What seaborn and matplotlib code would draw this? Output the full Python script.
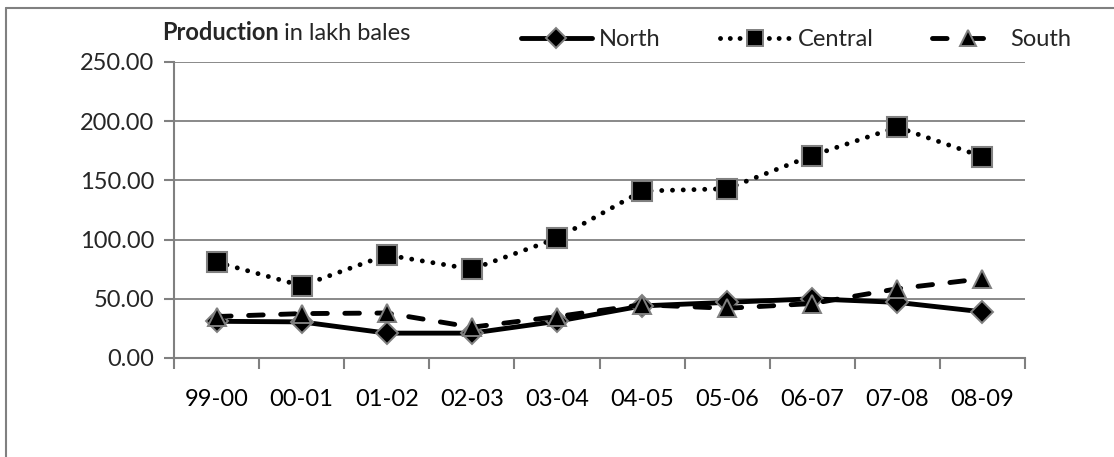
import matplotlib
matplotlib.use("Agg")
import matplotlib.pyplot as plt
import seaborn as sns
import pandas as pd
from matplotlib.lines import Line2D

categories = ["99-00", "00-01", "01-02", "02-03", "03-04", "04-05", "05-06", "06-07", "07-08", "08-09"]
north = [31, 30.5, 21, 21, 31, 44, 47, 50, 47, 39]
central = [81, 61, 87, 75, 101, 141, 143, 171, 195, 170]
south = [35, 37.5, 38, 26, 35, 45, 42, 46, 58.5, 67]
y_ticks = [0, 50, 100, 150, 200, 250]

sns.set_theme(style="white")
plt.rcParams['font.family'] = ['Lato', 'DejaVu Sans']

FS = 17
fig = plt.figure(figsize=(11.14, 4.57), dpi=100)
ax = fig.add_axes([174/1114, 1-358/457, (1025-174)/1114, (358-62)/457])

df = pd.DataFrame({"cat": categories, "North": north, "Central": central, "South": south})
xpos = list(range(len(categories)))

edge = "#808080"
LW = 3.5
sns.lineplot(x=xpos, y=df["North"], ax=ax, color="black", lw=LW, marker="D", ms=11,
             mfc="black", mec=edge, mew=1.4, label="North", legend=False)
sns.lineplot(x=xpos, y=df["Central"], ax=ax, color="black", lw=LW, marker="s", ms=14,
             mfc="black", mec=edge, mew=1.5, label="Central", legend=False)
sns.lineplot(x=xpos, y=df["South"], ax=ax, color="black", lw=LW, marker="^", ms=13.5,
             mfc="black", mec=edge, mew=1.4, label="South", legend=False)
lines = ax.get_lines()
lines[1].set_linestyle((0, (0.01, 2.2)))
lines[1].set_dash_capstyle("round")
lines[2].set_linestyle((0, (3.0, 3.6)))
lines[2].set_dash_capstyle("round")

ax.set_xlim(-0.5, len(categories) - 0.5)
ax.set_ylim(0, 250)
ax.set_yticks(y_ticks)
ax.set_yticklabels([f"{v:.2f}" for v in y_ticks])
ax.set_xticks(xpos)
ax.set_xticklabels(categories)
ax.set_xticks([i - 0.5 for i in range(len(categories) + 1)], minor=True)
ax.tick_params(axis="x", which="major", length=0, pad=22, labelsize=FS, colors="black")
ax.tick_params(axis="x", which="minor", length=8, width=1.5, color=edge, direction="out", bottom=True)
ax.tick_params(axis="y", length=7, width=1.5, color=edge, direction="out", left=True, labelsize=FS, pad=7)
ax.grid(axis="y", color=edge, lw=1.3)
ax.set_axisbelow(True)
for s in ["top", "right"]:
    ax.spines[s].set_visible(False)
for s in ["left", "bottom"]:
    ax.spines[s].set_color(edge)
    ax.spines[s].set_linewidth(1.5)
ax.set_xlabel("")
ax.set_ylabel("")

# Title-like label
t1 = fig.text(162/1114, 1-40/457, "Production", fontsize=FS, fontweight="bold", va="baseline", ha="left")
fig.canvas.draw()
bb = t1.get_window_extent()
fig.text(bb.x1/1114 + 5/1114, 1-40/457, "in lakh bales", fontsize=FS, va="baseline", ha="left")

handles = [
    Line2D([], [], color="black", lw=LW, marker="D", ms=10, mfc="black", mec=edge, mew=1.4),
    Line2D([], [], color="black", lw=LW, ls=(0, (0.01, 2.0)), dash_capstyle="round", marker="s", ms=12,
           mfc="black", mec=edge, mew=1.4),
    Line2D([], [], color="black", lw=LW, ls=(0, (3.0, 4.5)), dash_capstyle="round", marker="^", ms=12,
           mfc="black", mec=edge, mew=1.4),
]
fig.legend(handles, ["North", "Central", "South"], loc="center left", bbox_to_anchor=(521/1114, 1-40/457),
           ncol=3, frameon=False, fontsize=FS, handlelength=3.0, handletextpad=0.3, columnspacing=2.5,
           borderpad=0, borderaxespad=0)

# outer border (left and top)
fig.add_artist(Line2D([6/1114, 6/1114], [0, 1-8/457], color=edge, lw=1.5, transform=fig.transFigure))
fig.add_artist(Line2D([6/1114, 1], [1-8/457, 1-8/457], color=edge, lw=1.5, transform=fig.transFigure))

fig.savefig("out.png", dpi=100)
